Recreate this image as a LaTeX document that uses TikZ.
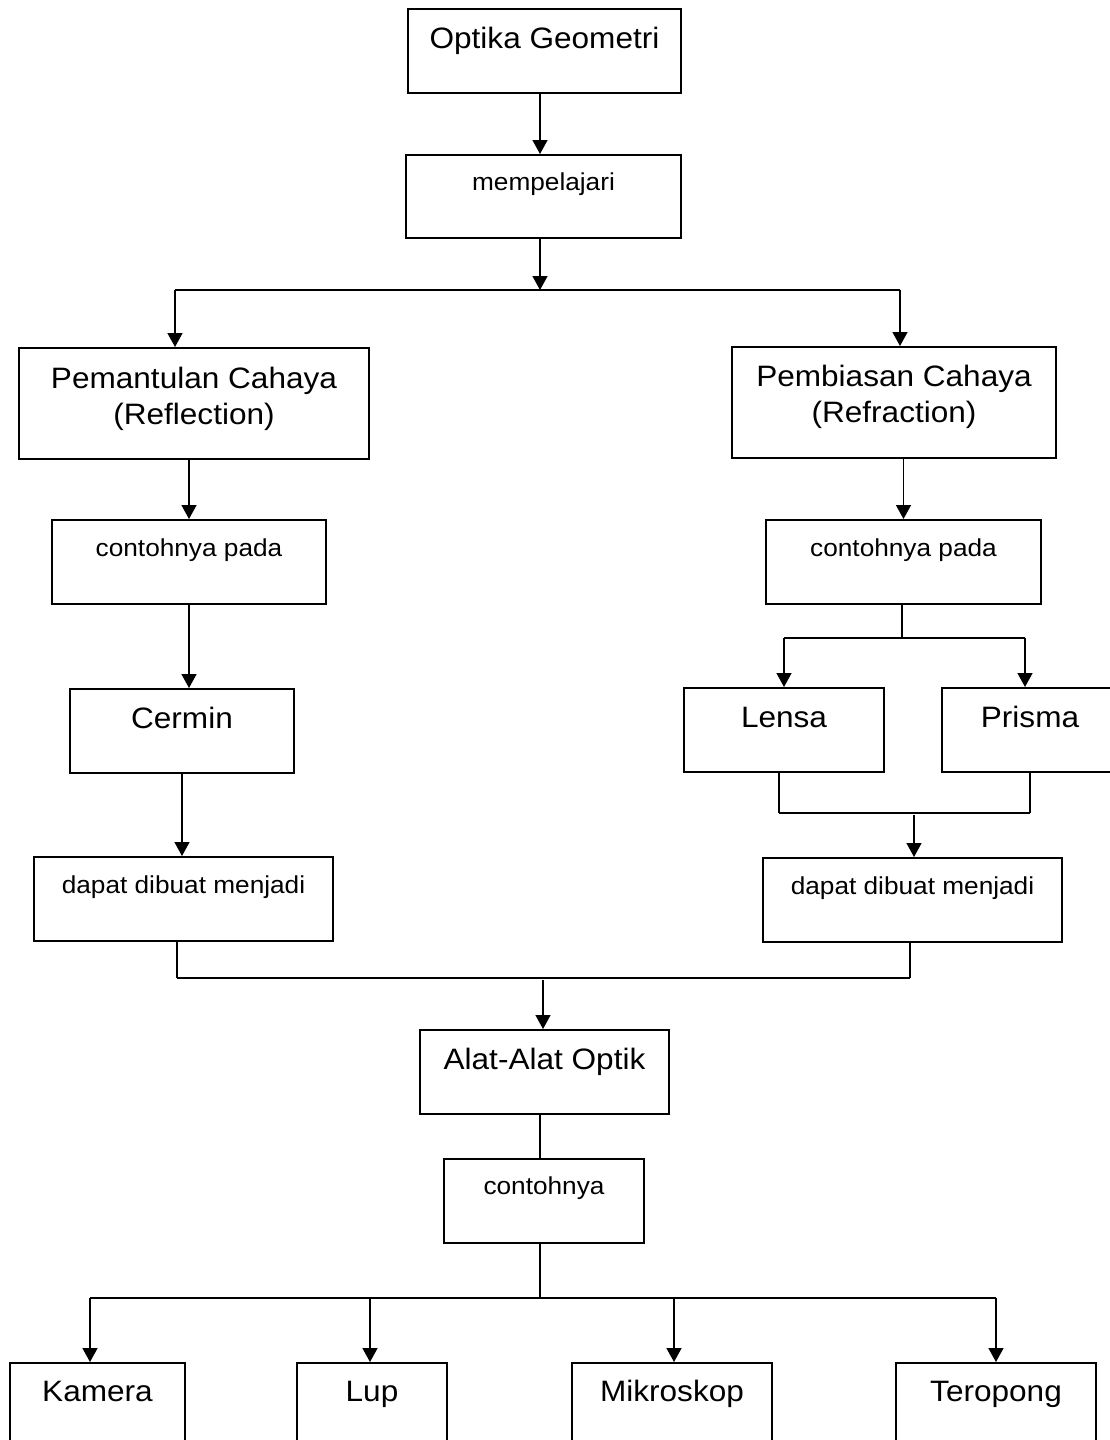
\documentclass[tikz,border=0pt]{standalone}
\usepackage{fontspec}
\setmainfont[FakeStretch=1.07]{Liberation Sans}
\usetikzlibrary{arrows.meta,calc}
\newcommand{\fbig}{\fontsize{14.75pt}{18pt}\selectfont}
\newcommand{\fsmall}{\fontsize{12.25pt}{15pt}\selectfont}
\begin{document}
\begin{tikzpicture}[x=0.5pt,y=-0.5pt,
  box/.style={draw, line width=1pt, inner sep=0pt, anchor=north west, align=center},
  bigbox/.style={box, font=\fbig, text height=19.5pt, text depth=22.5pt},
  smallbox/.style={box, font=\fsmall, text height=18pt, text depth=24pt},
  arr/.style={line width=0.75pt, -{Triangle[length=7pt,width=7.5pt]}},
  conn/.style={line width=0.75pt},
  bar/.style={line width=1.2pt}]
\useasboundingbox (0,0) rectangle (1109,1440);
\fill[white] (0,0) rectangle (1109,1440);
% boxes
\node[bigbox, minimum width=136.5pt] (opt) at (407,8) {Optika Geometri};
\node[smallbox, minimum width=137.5pt, text height=17.5pt, text depth=24pt] (mem) at (405,154) {mempelajari};
\node[box, font=\fbig, minimum width=175pt, text height=20pt, text depth=35.5pt] (pem) at (18,347)
  {\begin{tabular}[t]{@{}c@{}}Pemantulan Cahaya\\(Reflection)\end{tabular}};
\node[box, font=\fbig, minimum width=162pt, text height=19.5pt, text depth=36pt] (pbs) at (731,346)
  {\begin{tabular}[t]{@{}c@{}}Pembiasan Cahaya\\(Refraction)\end{tabular}};
\node[smallbox, minimum width=137pt] (cpL) at (51,519) {contohnya pada};
\node[smallbox, minimum width=137.5pt] (cpR) at (765,519) {contohnya pada};
\node[bigbox, minimum width=112pt] (cer) at (69,688) {Cermin};
\node[bigbox, minimum width=100pt] (len) at (683,687) {Lensa};
\node[bigbox, minimum width=88pt] (pri) at (941,687) {Prisma};
\node[smallbox, minimum width=149.5pt] (dpL) at (33,856) {dapat dibuat menjadi};
\node[smallbox, minimum width=149.5pt] (dpR) at (762,857) {dapat dibuat menjadi};
\node[bigbox, minimum width=124.5pt] (alat) at (419,1029) {Alat-Alat Optik};
\node[smallbox, minimum width=100pt, text height=17.5pt, text depth=24.5pt] (con) at (443,1158) {contohnya};
\node[bigbox, minimum width=87.5pt, text height=19pt, text depth=23pt] (kam) at (9,1362) {Kamera};
\node[bigbox, minimum width=75pt, text height=19pt, text depth=23pt] (lup) at (296,1362) {Lup};
\node[bigbox, minimum width=100pt, text height=19pt, text depth=23pt] (mik) at (571,1362) {Mikroskop};
\node[bigbox, minimum width=100pt, text height=19pt, text depth=23pt] (ter) at (895,1362) {Teropong};
% junction coordinates
\coordinate (c0) at (540,0);
\coordinate (j1) at (540,290);
\coordinate (j1L) at (175,290);
\coordinate (j1R) at (900,290);
\coordinate (j2) at (902,638);
\coordinate (j2L) at (784,638);
\coordinate (j2R) at (1025,638);
\coordinate (j3L) at (779,813);
\coordinate (j3R) at (1030,813);
\coordinate (j3) at (914,815);
\coordinate (j4L) at (177,978);
\coordinate (j4R) at (910,978);
\coordinate (j4) at (543,980);
\coordinate (k) at (540,1298);
\coordinate (b1) at (90,1298);
\coordinate (b2) at (370,1298);
\coordinate (b3) at (674,1298);
\coordinate (b4) at (996,1298);
% connectors
\draw[arr] (opt.south -| c0) -- (mem.north -| c0);
\draw[arr] (mem.south -| j1) -- (j1);
\draw[bar] (j1L) -- (j1R);
\draw[arr] (j1L) -- (j1L |- pem.north);
\draw[arr] (j1R) -- (j1R |- pbs.north);
\draw[arr] (pem.south -| cpL.north) -- (cpL.north);
\draw[arr] (pbs.south -| cpR.north) -- (cpR.north);
\draw[arr] (cpL.south) -- (cpL.south |- cer.north);
\draw[arr] (cer.south) -- (cer.south |- dpL.north);
\draw[conn] (cpR.south -| j2) -- (j2);
\draw[bar] (j2L) -- (j2R);
\draw[arr] (j2L) -- (j2L |- len.north);
\draw[arr] (j2R) -- (j2R |- pri.north);
\draw[conn] (len.south -| j3L) -- (j3L);
\draw[conn] (pri.south -| j3R) -- (j3R);
\draw[bar] (j3L) -- (j3R);
\draw[arr] (j3) -- (j3 |- dpR.north);
\draw[conn] (dpL.south -| j4L) -- (j4L);
\draw[conn] (dpR.south -| j4R) -- (j4R);
\draw[bar] (j4L) -- (j4R);
\draw[arr] (j4) -- (j4 |- alat.north);
\draw[conn] (alat.south -| k) -- (con.north -| k);
\draw[conn] (con.south -| k) -- (k);
\draw[bar] (b1) -- (b4);
\draw[arr] (b1) -- (b1 |- kam.north);
\draw[arr] (b2) -- (b2 |- lup.north);
\draw[arr] (b3) -- (b3 |- mik.north);
\draw[arr] (b4) -- (b4 |- ter.north);
\end{tikzpicture}
\end{document}
